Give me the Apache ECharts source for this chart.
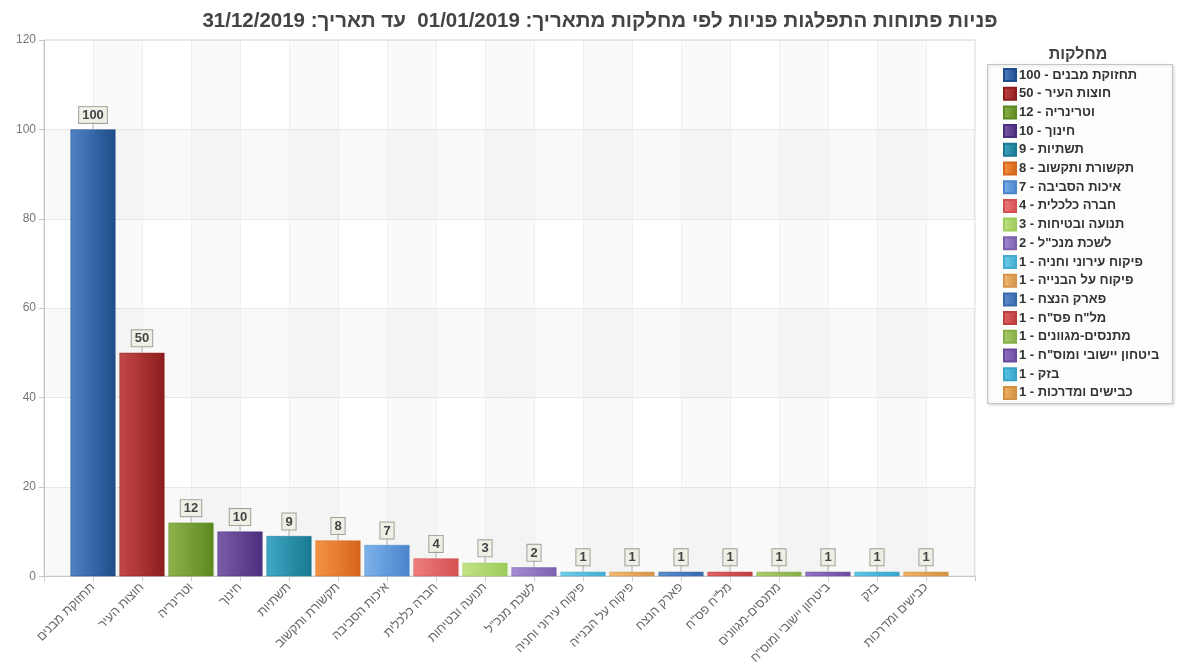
<!DOCTYPE html>
<html>
<head>
<meta charset="utf-8">
<script src="https://cdn.jsdelivr.net/npm/echarts@6/dist/echarts.min.js"></script>
<style>
  html, body { margin: 0; padding: 0; background: #fff; }
  #chart { width: 1178px; height: 667px; }
</style>
</head>
<body>
<div id="chart"></div>
<script>
// Departments and open requests per department
const categories = [
  'תחזוקת מבנים', 'חוצות העיר', 'וטרינריה', 'חינוך', 'תשתיות',
  'תקשורת ותקשוב', 'איכות הסביבה', 'חברה כלכלית', 'תנועה ובטיחות',
  'לשכת מנכ"ל', 'פיקוח עירוני וחניה', 'פיקוח על הבנייה', 'פארק הנצח',
  'מל"ח פס"ח', 'מתנסים-מגוונים', 'ביטחון יישובי ומוס"ח', 'בזק', 'כבישים ומדרכות'
];
const values = [100, 50, 12, 10, 9, 8, 7, 4, 3, 2, 1, 1, 1, 1, 1, 1, 1, 1];
const yTicks = [0, 20, 40, 60, 80, 100, 120];

const chartTitle = 'פניות פתוחות התפלגות פניות לפי מחלקות מתאריך: 01/01/2019  עד תאריך: 31/12/2019';
const legendTitle = 'מחלקות';

// [light, dark] gradient stops for each department's bar
const palette = [
  ['#4f82c4', '#1f4c8a'], ['#c44848', '#8c1c1c'], ['#8fb24c', '#5c8820'],
  ['#7c5caa', '#4b2e7e'], ['#40a8c6', '#187890'], ['#f49442', '#d6641a'],
  ['#7cb2ea', '#4a84cc'], ['#ee7e7e', '#d45050'], ['#c4e286', '#9ccc5a'],
  ['#a68cd2', '#7c60ae'], ['#74cee8', '#42acd0'], ['#f2bc74', '#d6944a'],
  ['#5e90ce', '#3868ac'], ['#de6464', '#be3e3e'], ['#acce6e', '#86ae46'],
  ['#9474c4', '#6a4c9e'], ['#60c6e6', '#36a4ca'], ['#eeb466', '#d29040']
];

const font = 'Arial, "Liberation Sans", "DejaVu Sans", sans-serif';

function grad(pair) {
  return new echarts.graphic.LinearGradient(0, 0, 1, 0, [
    { offset: 0, color: pair[0] },
    { offset: 1, color: pair[1] }
  ]);
}

// value tag above each bar: a boxed number with a short stem down to the bar
const valueTag = {
  show: true,
  position: 'top',
  distance: 0,
  align: 'center',
  formatter: p => '{box|' + p.value[1] + '}\n{stem|}',
  rich: {
    box: {
      fontFamily: font,
      fontSize: 13,
      fontWeight: 'bold',
      color: '#444',
      lineHeight: 15,
      backgroundColor: '#efefe6',
      borderColor: '#a0a098',
      borderWidth: 1,
      padding: [2, 3, 1, 3],
      align: 'center'
    },
    stem: {
      width: 1,
      height: 7,
      lineHeight: 7,
      backgroundColor: '#b0b0a8',
      align: 'center'
    }
  }
};

const series = categories.map((name, i) => ({
  name: name,
  type: 'bar',
  stack: 'departments',
  barWidth: 45,
  data: [[i, values[i]]],
  itemStyle: { color: grad(palette[i]), borderColor: palette[i][1], borderWidth: 0.5 },
  label: valueTag,
  emphasis: { disabled: true }
}));

const chart = echarts.init(document.getElementById('chart'), null, { renderer: 'canvas' });

chart.setOption({
  animation: false,
  backgroundColor: '#fff',
  title: [
    {
      text: chartTitle,
      left: 595,
      top: 6,
      textAlign: 'center',
      textStyle: { fontFamily: font, fontSize: 20.5, fontWeight: 'bold', color: '#444' }
    },
    {
      text: legendTitle,
      left: 1073,
      top: 42,
      textAlign: 'center',
      textStyle: { fontFamily: font, fontSize: 16, fontWeight: 'bold', color: '#444' }
    }
  ],
  graphic: [{
    type: 'rect',
    left: 987, top: 64,
    shape: { width: 185, height: 339 },
    style: { fill: '#fdfdfb', stroke: '#c4c4c4', lineWidth: 1,
             shadowBlur: 3, shadowColor: 'rgba(0,0,0,0.15)', shadowOffsetX: 1, shadowOffsetY: 1 },
    z: -1
  }],
  legend: {
    orient: 'vertical',
    left: 998,
    top: 63,
    padding: [5, 0, 0, 5],
    itemWidth: 12,
    itemHeight: 12,
    itemGap: 4.7,
    selectedMode: false,
    icon: 'rect',
    data: categories,
    formatter: name => name + ' - ' + values[categories.indexOf(name)],
    textStyle: { fontFamily: font, fontSize: 13, fontWeight: 'bold', color: '#333', lineHeight: 13, padding: [0, 0, 0, -2] }
  },
  grid: {
    left: 44, right: 203, top: 40, bottom: 89,
    show: true, borderColor: '#d0d0d0', borderWidth: 1, backgroundColor: 'transparent'
  },
  xAxis: {
    type: 'value',
    min: -1,
    max: categories.length,
    interval: 1,
    axisLine: { show: true, onZero: false, lineStyle: { color: '#c8c8c8' } },
    axisTick: { show: true, length: 5, lineStyle: { color: '#c8c8c8' } },
    axisLabel: {
      rotate: 45,
      margin: 9,
      fontFamily: font,
      fontSize: 12.5,
      color: '#666',
      showMinLabel: true,
      showMaxLabel: true,
      formatter: v => (categories[v] !== undefined ? categories[v] : '')
    },
    splitLine: { show: true, lineStyle: { color: '#efefef' } },
    splitArea: { show: true, areaStyle: { color: ['rgba(0,0,0,0)', 'rgba(0,0,0,0.02)'] } }
  },
  yAxis: {
    type: 'value',
    min: yTicks[0],
    max: yTicks[yTicks.length - 1],
    interval: yTicks[1] - yTicks[0],
    axisLine: { show: true, onZero: false, lineStyle: { color: '#c8c8c8' } },
    axisTick: { show: true, length: 5, lineStyle: { color: '#c8c8c8' } },
    axisLabel: { fontFamily: font, fontSize: 12, color: '#777', margin: 8 },
    splitLine: { show: true, lineStyle: { color: '#e8e8e8' } },
    splitArea: { show: true, areaStyle: { color: ['rgba(0,0,0,0.025)', 'rgba(0,0,0,0)'] } }
  },
  series: series
});
</script>
</body>
</html>
